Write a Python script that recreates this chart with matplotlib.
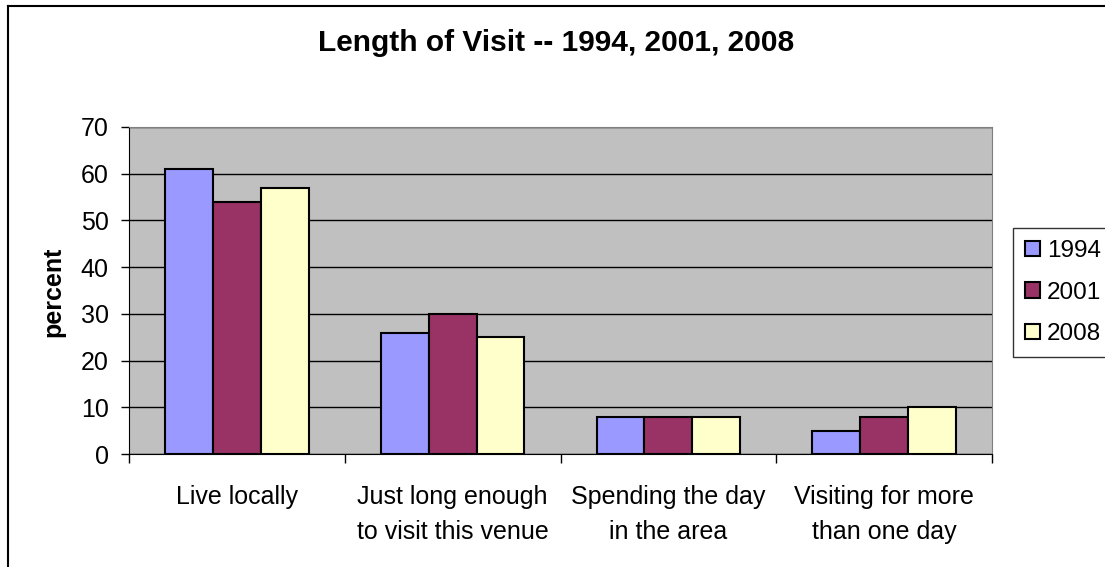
import matplotlib.pyplot as plt
import numpy as np
from matplotlib.lines import Line2D

# 字型設定 (Arial 的替代字型)
plt.rcParams['font.family'] = ['Liberation Sans', 'DejaVu Sans']
plt.rcParams['font.size'] = 18

# 資料
categories = ["Live locally", "Just long enough\nto visit this venue",
              "Spending the day\nin the area", "Visiting for more\nthan one day"]
years = ["1994", "2001", "2008"]
v1994 = [61, 26, 8, 5]
v2001 = [54, 30, 8, 8]
v2008 = [57, 25, 8, 10]
colors = ["#9999FF", "#993366", "#FFFFCC"]

fig = plt.figure(figsize=(11.05, 5.67), dpi=100)
W, H = 1105, 567
ax = fig.add_axes([129/W, 1-454/H, (992-129)/W, (454-127)/H])
ax.set_facecolor("#C0C0C0")

x = np.arange(len(categories))
w = 0.222
for i, (vals, lab) in enumerate(zip([v1994, v2001, v2008], years)):
    ax.bar(x + (i-1)*w, vals, width=w, color=colors[i], edgecolor="black",
           linewidth=1.5, label=lab, zorder=3)

ax.set_xlim(-0.5, 3.5)
ax.set_ylim(0, 70)
ax.set_yticks(range(0, 71, 10))
ax.yaxis.grid(True, color="black", linewidth=1, zorder=1)
ax.set_axisbelow(True)

# x 軸: 刻度在類別之間, 標籤在中間
ax.set_xticks(np.arange(-0.5, 4, 1))
ax.set_xticklabels([])
ax.set_xticks(x, minor=True)
ax.set_xticklabels(categories, minor=True, linespacing=1.57)
ax.tick_params(axis='x', which='major', length=6.5, width=1, direction='out')
ax.tick_params(axis='x', which='minor', length=0, pad=22.5)
ax.tick_params(axis='y', length=5.5, width=1, pad=9)

for s in ['top', 'right']:
    ax.spines[s].set_color("#808080")
for s in ['left', 'bottom']:
    ax.spines[s].set_color("black")

fig.text(53/W, 1-292/H, "percent", rotation=90, ha='center', va='center',
         fontweight='bold', fontsize=18)
fig.text(556/W, 1-43/H, "Length of Visit -- 1994, 2001, 2008",
         ha='center', va='center', fontweight='bold', fontsize=21.5)

leg = fig.legend(loc='upper left', bbox_to_anchor=(1013/W, 1-228/H),
                 frameon=True, fancybox=False, handlelength=0.6, handleheight=0.6,
                 handletextpad=0.3, labelspacing=0.8, borderpad=0.5,
                 borderaxespad=0, fontsize=17.5)
leg.get_frame().set_edgecolor("black")
leg.get_frame().set_linewidth(1)

# 外框
fig.add_artist(Line2D([8/W, 8/W], [0, 1-6/H], color="black", linewidth=1.5))
fig.add_artist(Line2D([8/W, 1], [1-6/H, 1-6/H], color="black", linewidth=1.5))

plt.savefig("out.png", dpi=100)
